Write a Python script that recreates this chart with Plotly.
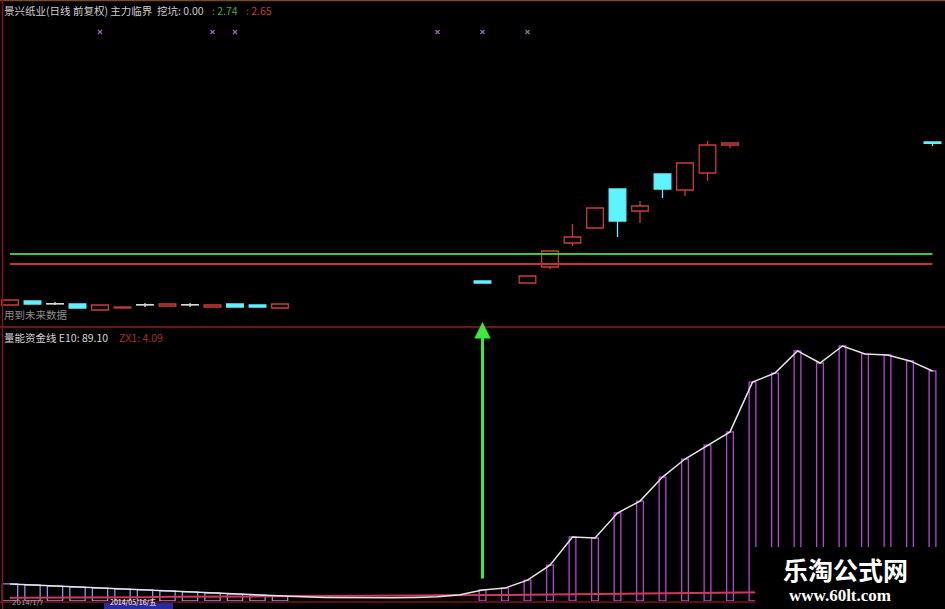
import plotly.graph_objects as go

W, H = 945, 609

# ---------------- data ----------------
idx = list(range(42))

# daily candles (price), None = not shown
c_open = [2.281, 2.317, 2.290, 2.290, 2.236, 2.254, 2.281, 2.272, 2.281, 2.263, 2.290, 2.281, 2.254,
          None, None, None, None, None, None, None, None,
          2.497, None, 2.479, 2.623, 2.839, 2.974, 3.325, 3.127, 3.460, 3.316, 3.469, 3.721,
          None, None, None, None, None, None, None, None, 3.748]
c_close = [2.326, 2.290, 2.290, 2.254, 2.281, 2.263, 2.281, 2.290, 2.281, 2.281, 2.263, 2.263, 2.290,
           None, None, None, None, None, None, None, None,
           2.479, None, 2.542, 2.767, 2.893, 3.154, 3.037, 3.172, 3.325, 3.559, 3.721, 3.739,
           None, None, None, None, None, None, None, None, 3.735]
c_high = [2.326, 2.317, 2.308, 2.290, 2.281, 2.263, 2.299, 2.290, 2.299, 2.281, 2.290, 2.281, 2.290,
          None, None, None, None, None, None, None, None,
          2.497, None, 2.542, 2.767, 3.010, 3.154, 3.325, 3.217, 3.460, 3.559, 3.757, 3.739,
          None, None, None, None, None, None, None, None, 3.748]
c_low = [2.281, 2.290, 2.281, 2.254, 2.236, 2.254, 2.263, 2.272, 2.263, 2.263, 2.263, 2.263, 2.254,
         None, None, None, None, None, None, None, None,
         2.479, None, 2.479, 2.605, 2.812, 2.974, 2.893, 3.019, 3.244, 3.262, 3.397, 3.694,
         None, None, None, None, None, None, None, None, 3.712]

line_green = 2.74   # 主力临界
line_red = 2.65     # 挖坑
signal_idx = [4, 9, 10, 19, 21, 23]
signal_level = 4.738

# 量能资金线 E10 and ZX1
e10 = [6.6, 6.2, 5.8, 5.4, 5.0, 4.6, 4.3, 3.9, 3.5, 3.1, 2.7, 2.3, 1.9,
       1.6, 1.4, 1.3, 1.3, 1.3, 1.4, 1.6, 2.4,
       4.3, 5.0, 8.1, 13.9, 24.8, 24.4, 34.1, 38.7, 48.0, 55.0, 60.4, 65.5,
       84.8, 88.3, 96.9, 92.2, 98.8, 95.7, 95.3, 93.0, 89.1]
bar_shown = [True] * 13 + [False] * 8 + [True] * 21
zx1 = [1.3, 1.3, 1.4, 1.4, 1.5, 1.5, 1.5, 1.6, 1.6, 1.7, 1.7, 1.8, 1.8, 1.9, 1.9, 2.0, 2.0, 2.1, 2.1,
       2.2, 2.2, 2.3, 2.3, 2.4, 2.5, 2.6, 2.7, 2.8, 2.9, 3.0, 3.1, 3.2, 3.3, 3.4, 3.5, 3.6, 3.7,
       3.8, 3.9, 3.95, 4.0, 4.09]

# ---------------- helpers ----------------
def px_x(p):
    return p / W

def px_y(p):
    return 1 - p / H

RED = "#cc3b3b"
CYAN = "#5ff2ff"
WHITE_C = "#d8d8d8"

fig = go.Figure()

# candle bodies
groups = {"up": ([], [], []), "down": ([], [], []), "doji": ([], [], [])}
wx, wy = {"up": [], "down": [], "doji": []}, {"up": [], "down": [], "doji": []}
for i in idx:
    o, c, h, l = c_open[i], c_close[i], c_high[i], c_low[i]
    if o is None:
        continue
    if c > o:
        k = "up"
    elif c < o:
        k = "down"
    else:
        k = "doji"
    lo_b, hi_b = min(o, c), max(o, c)
    hgt = max(hi_b - lo_b, 0.003)
    groups[k][0].append(i)
    groups[k][1].append(lo_b)
    groups[k][2].append(hgt)
    if h > hi_b:
        wx[k] += [i, i, None]
        wy[k] += [hi_b, h, None]
    if l < lo_b:
        wx[k] += [i, i, None]
        wy[k] += [l, lo_b, None]

style = {"up": ("#000000", RED), "down": (CYAN, CYAN), "doji": (WHITE_C, WHITE_C)}
for k, (xs, bases, hs) in groups.items():
    fill, edge = style[k]
    fig.add_trace(go.Bar(x=xs, y=hs, base=bases, width=0.74, yaxis="y",
                         marker=dict(color=fill, line=dict(color=edge, width=1.3)),
                         hoverinfo="skip"))
    fig.add_trace(go.Scatter(x=wx[k], y=wy[k], mode="lines", yaxis="y",
                             line=dict(color=edge, width=1.3), hoverinfo="skip"))

# horizontal levels
fig.add_trace(go.Scatter(x=[idx[0], idx[-1]], y=[line_green, line_green], mode="lines",
                         line=dict(color="#3cc83c", width=2), yaxis="y"))
fig.add_trace(go.Scatter(x=[idx[0], idx[-1]], y=[line_red, line_red], mode="lines",
                         line=dict(color="#c83232", width=2), yaxis="y"))

# signal markers
fig.add_trace(go.Scatter(x=signal_idx, y=[signal_level] * len(signal_idx), mode="markers",
                         marker=dict(symbol="x-thin", size=4, color="#9a68b0",
                                     line=dict(color="#9a68b0", width=1.3)), yaxis="y"))

# bottom: hollow bars
bx_l = [i for i in idx if bar_shown[i] and i <= 12]
bx_r = [i for i in idx if bar_shown[i] and i > 12]
fig.add_trace(go.Bar(x=bx_l, y=[e10[i] for i in bx_l], width=0.68, yaxis="y2",
                     marker=dict(color="rgba(0,0,0,0)", line=dict(color="#9a8ee0", width=1.3)),
                     hoverinfo="skip"))
fig.add_trace(go.Bar(x=bx_r, y=[e10[i] for i in bx_r], width=0.3, yaxis="y2",
                     marker=dict(color="rgba(0,0,0,0)", line=dict(color="#b04ad0", width=1.3)),
                     hoverinfo="skip"))
# ZX1 line
fig.add_trace(go.Scatter(x=idx, y=zx1, mode="lines", yaxis="y2",
                         line=dict(color="#d03a5a", width=2)))
# E10 line
fig.add_trace(go.Scatter(x=idx, y=e10, mode="lines", yaxis="y2",
                         line=dict(color="#e4e4e4", width=1.5)))

# axes mapping: index i at pixel 10 + 22.5*i
x0 = -10 / 22.5
x1 = (W - 10) / 22.5
top_lo_px, top_hi_px = 325, 5
price_at = lambda y: 2.74 + (254 - y) * 0.009
bot_lo_px, bot_hi_px = 601, 330
val_at = lambda y: (601 - y) * 0.3874

fig.update_layout(
    width=W, height=H,
    margin=dict(l=0, r=0, t=0, b=0),
    paper_bgcolor="#000000", plot_bgcolor="#000000",
    showlegend=False, barmode="overlay",
    xaxis=dict(range=[x0, x1], visible=False, domain=[0, 1]),
    yaxis=dict(range=[price_at(top_lo_px), price_at(top_hi_px)], visible=False,
               domain=[px_y(top_lo_px), px_y(top_hi_px)]),
    yaxis2=dict(range=[val_at(bot_lo_px), val_at(bot_hi_px)], visible=False,
                domain=[px_y(bot_lo_px), px_y(bot_hi_px)]),
)

shapes = []
# frame lines
shapes.append(dict(type="line", xref="paper", yref="paper", x0=0, x1=1, y0=px_y(0.5), y1=px_y(0.5),
                   line=dict(color="#7a4a20", width=1.5)))
shapes.append(dict(type="line", xref="paper", yref="paper", x0=0, x1=1, y0=px_y(327), y1=px_y(327),
                   line=dict(color="#9a1818", width=1.5)))
shapes.append(dict(type="line", xref="paper", yref="paper", x0=0, x1=1, y0=px_y(602), y1=px_y(602),
                   line=dict(color="#7a1414", width=1.5)))
shapes.append(dict(type="line", xref="paper", yref="paper", x0=px_x(2.5), x1=px_x(2.5), y0=0, y1=1,
                   line=dict(color="#8a1414", width=1.5)))
# date cursor box
shapes.append(dict(type="rect", xref="paper", yref="paper", x0=px_x(104), x1=px_x(173),
                   y0=px_y(610), y1=px_y(603), fillcolor="#2a2aa0", line=dict(width=0), layer="above"))
# watermark box
shapes.append(dict(type="rect", xref="paper", yref="paper", x0=px_x(755), x1=1.01,
                   y0=-0.01, y1=px_y(547), fillcolor="#000000", line=dict(width=0), layer="above"))
fig.update_layout(shapes=shapes)

CJK = "Noto Sans CJK SC"
ann = []

def txt(x, y, s, color, size=10.5, family=CJK, anchor="left", yanchor="middle"):
    ann.append(dict(xref="paper", yref="paper", x=px_x(x), y=px_y(y), text=s, showarrow=False,
                    xanchor=anchor, yanchor=yanchor, font=dict(family=family, size=size, color=color)))

txt(2, 11, "景兴纸业(日线 前复权) 主力临界  挖坑: 0.00", "#cfcfcf")
txt(210, 11, ": 2.74", "#3fae4a")
txt(244, 11, ": 2.65", "#c43a3a")
txt(2, 314, "用到未来数据", "#8c8c8c")
txt(2, 337, "量能资金线 E10: 89.10", "#d4d4d4")
txt(117, 337, "ZX1: 4.09", "#a83030")
txt(10, 609, "2014/1/7", "#a0a0a0", size=7, family="DejaVu Sans", yanchor="bottom")
txt(108, 609, "2014/05/16/五", "#ffffff", size=7, yanchor="bottom")
txt(845, 569, "<b>乐淘公式网</b>", "#ffffff", size=25, anchor="center")
txt(840, 595, "<b>www.60lt.com</b>", "#ffffff", size=17, family="Liberation Serif", anchor="center")

# green arrow
ann.append(dict(xref="x", yref="paper", x=21, y=px_y(322), ax=0, ay=258, axref="pixel", ayref="pixel",
                text="", showarrow=True, arrowhead=2, arrowsize=1.1, arrowwidth=3, arrowcolor="#3ee83e"))
fig.update_layout(annotations=ann)

fig.write_html("out.html", config={"displayModeBar": False},
               post_script="document.body.style.margin='0';document.body.style.padding='0';"
                           "document.documentElement.style.overflow='hidden';")
